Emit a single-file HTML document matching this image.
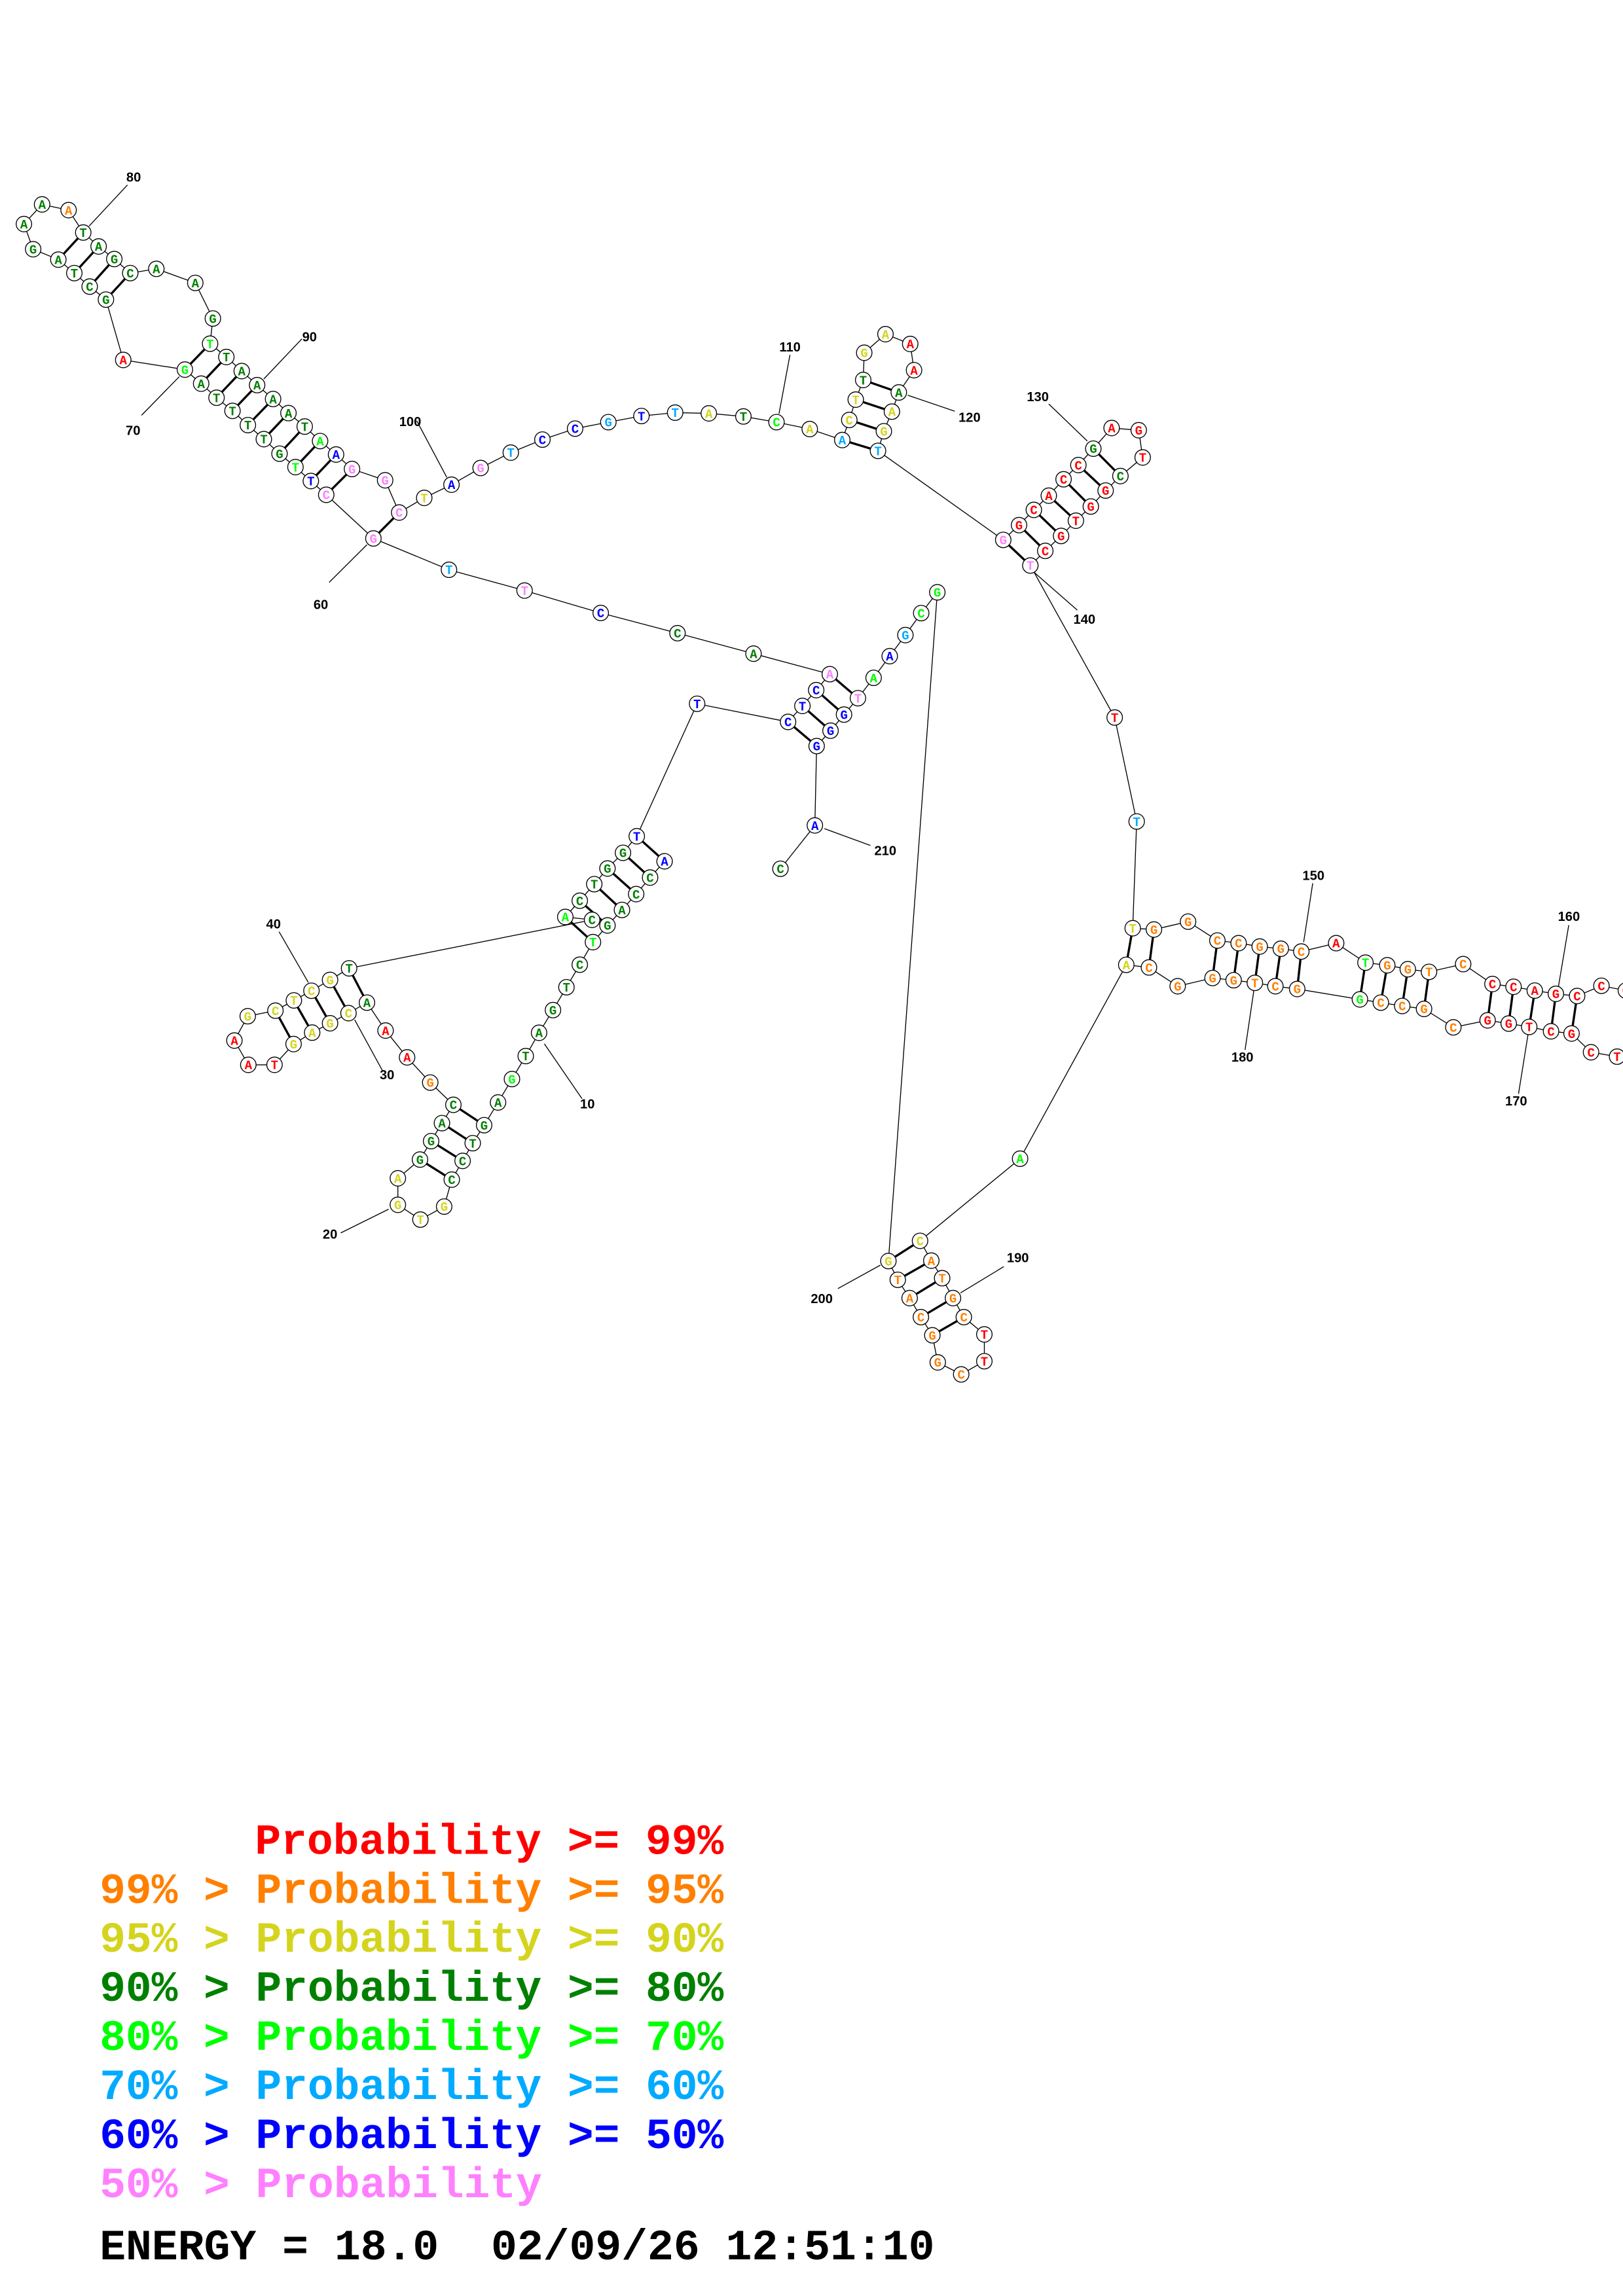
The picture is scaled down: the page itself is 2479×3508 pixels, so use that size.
<!DOCTYPE html>
<html><head><meta charset="utf-8"><style>
html,body{margin:0;padding:0;background:#fff}
svg{display:block}
.n circle{fill:#fff;stroke:#000;stroke-width:0.6}
.t text{font-family:"Liberation Mono",monospace;font-weight:bold;font-size:8.5px;text-anchor:middle}
.r{fill:#ff0000}.o{fill:#ff8000}.y{fill:#d4d41e}.g{fill:#008000}.l{fill:#00ff00}.c{fill:#00aaff}.b{fill:#0000ff}.p{fill:#ff80ff}
.lab{font-family:"Liberation Sans",sans-serif;font-weight:bold;font-size:9px;fill:#000;text-anchor:middle}
.leg{font-family:"Liberation Mono",monospace;font-weight:bold;font-size:29.5px}
</style></head><body>
<svg width="2479" height="3508" viewBox="0 0 1108 1568" xmlns="http://www.w3.org/2000/svg">
<rect width="1108" height="1568" fill="#fff"/>
<g fill="none" stroke="#000" stroke-width="0.6">
<polyline points="453.7,588.2 443.8,599.3 434.3,610.6 424.6,621.4 414.7,632 404.8,643.4 395.8,658.8 386.7,674.2 377.5,689.8 368,705.3 358.9,721.2 349.5,736.9 340,752.9 330.5,768.4 322.7,780.7 315.8,792.8 308.4,805.6 303.2,824 287,832.9 271.6,822.8 271.6,804.7 286.7,791.9 294.3,779.3 301.7,767 309.5,754.5 293.7,739.3 277.9,722.1 263.2,703.8 250.5,684.7 237.9,691.9 225.3,698.8 213.1,705.2 200.4,713 187.4,727.2 169.5,727.2 160,710.6 169.1,694 188,690.2 200.6,683.2 212.6,676.6 225.3,669.2 238.3,661.3 404.2,628.2 385.9,626.2 395.8,615.1 405.7,603.8 414.7,593.1 425.3,582.4 434.7,571.1 475.9,480.6 538,493 547.8,482.1 557.2,471.3 566.5,460.4 514.4,446.4 462.5,432.4 410.1,418.6 358.1,403.3 306.5,389.1 254.9,367.7 222.7,337.9 212.2,328.5 201.7,319 190.8,309.8 180.1,299.9 169.2,290.3 158.7,280.6 147.8,271.6 137.3,262 126.2,252.4 84.1,245.8 72.3,204.6 61.2,195.7 50.7,186.5 39.8,177.3 22.6,170.2 16.3,153 28.7,139.6 46.8,143.5 56.8,158.8 67.3,168.3 78,176.9 88.9,186.5 106.7,183.6 133.3,193.2 145.3,217.5 143.4,234.7 154.5,243.8 165,253.4 175.5,263 186.4,272.5 196.9,282.1 208,291.3 218.5,301.2 229.4,310.4 240.3,320.3 262.9,328 272.5,350 289.6,340 308.2,331 328.1,319.6 348.7,309.1 370.3,300.2 392.6,292.7 415.3,288.3 437.9,284.1 460.9,281.8 483.9,282.3 507.5,284.4 530.1,288.3 552.8,293 575,300.5 579.8,286.8 584.2,272.9 589.3,259.5 590,240.9 604.5,228.2 621.4,234.9 624,252.8 613.6,268 608.9,281.1 603.4,294.5 599.4,307.9 684.9,368.7 695.7,358.6 705.8,348.2 716,338.5 726.1,327.3 736.2,317.6 746.4,306.4 758.9,292.3 777.4,293.8 780.1,312.4 764.9,325.1 754.8,335 744.7,345.9 734.5,355.6 724.4,366 713.6,376.2 703.4,386.2 761,490 776,561 773.3,633.9 787.8,634.8 811.1,629.4 831.1,642.3 845.6,644.1 860,646.4 874.4,647.9 888.4,649.8 912.2,644.1 932.2,657.4 947.1,659.2 961.1,661.9 975.6,663.7 998.9,658.4 1018.9,672 1033.3,673.9 1047.8,676.5 1062.2,678.7 1076.7,680.2 1093.3,673.2 1110,676.5 1125,690 1120,715 1104,721.6 1086.2,718.6 1072.9,705.8 1058.9,704.3 1044,701.3 1030,699 1015.6,696.8 992.2,701.6 972.2,689 957.3,687 942.7,684.7 928.4,682.5 885.6,675.4 870.7,673.5 856.7,671.2 842.2,669.4 827.8,667.9 804,673.5 784.4,660.7 768.9,658.9 696.4,791.3 628.1,847.4 635.8,860.9 643.2,872.9 650.6,886.5 658,899.5 672,911.3 672,929.6 656.2,938.6 640.2,930.4 636.5,911.9 628.7,899.5 621,886.5 612.9,874 606.5,861.2 639.9,404.5 628.9,418.7 618.1,433.7 607.4,448.1 596.4,462.9 585.7,476.8 576.2,488 567,499 557.5,509.5 556.3,563.7 532.8,593.3"/>
<!-- label ticks -->
<line x1="397.3" y1="750.3" x2="371.6" y2="712.8"/>
<line x1="232.6" y1="842" x2="265.3" y2="825.8"/>
<line x1="261" y1="731" x2="242.1" y2="696.4"/>
<line x1="190.5" y1="636.3" x2="210.5" y2="671"/>
<line x1="224.7" y1="397.7" x2="250.5" y2="372"/>
<line x1="96.6" y1="283.6" x2="122.4" y2="257.2"/>
<line x1="87" y1="126.3" x2="60.8" y2="154.4"/>
<line x1="206.1" y1="231.4" x2="180.1" y2="258.8"/>
<line x1="284.5" y1="287.4" x2="305" y2="326"/>
<line x1="539.3" y1="242.4" x2="531.8" y2="282.6"/>
<line x1="651.8" y1="280.8" x2="619.7" y2="269.9"/>
<line x1="716" y1="275.9" x2="742.3" y2="301.2"/>
<line x1="735.5" y1="416.7" x2="705" y2="390"/>
<line x1="896.2" y1="603.2" x2="890" y2="643.4"/>
<line x1="1071" y1="631.8" x2="1064" y2="673.5"/>
<line x1="1043.3" y1="705.8" x2="1036.7" y2="747"/>
<line x1="856" y1="676.5" x2="850" y2="717"/>
<line x1="685.3" y1="865" x2="655.7" y2="883"/>
<line x1="572" y1="880" x2="601" y2="864"/>
<line x1="562.8" y1="565.9" x2="594.2" y2="577.4"/>
</g>
<g stroke="#000" stroke-width="1.5">
<line x1="453.7" y1="588.2" x2="434.7" y2="571.1"/><line x1="443.8" y1="599.3" x2="425.3" y2="582.4"/><line x1="434.3" y1="610.6" x2="414.7" y2="593.1"/><line x1="424.6" y1="621.4" x2="405.7" y2="603.8"/><line x1="414.7" y1="632" x2="395.8" y2="615.1"/><line x1="404.8" y1="643.4" x2="385.9" y2="626.2"/>
<line x1="330.5" y1="768.4" x2="309.5" y2="754.5"/><line x1="322.7" y1="780.7" x2="301.7" y2="767"/><line x1="315.8" y1="792.8" x2="294.3" y2="779.3"/><line x1="308.4" y1="805.6" x2="286.7" y2="791.9"/>
<line x1="250.5" y1="684.7" x2="238.3" y2="661.3"/><line x1="237.9" y1="691.9" x2="225.3" y2="669.2"/><line x1="225.3" y1="698.8" x2="212.6" y2="676.6"/><line x1="213.1" y1="705.2" x2="200.6" y2="683.2"/><line x1="200.4" y1="713" x2="188" y2="690.2"/>
<line x1="538" y1="493" x2="557.5" y2="509.5"/><line x1="547.8" y1="482.1" x2="567" y2="499"/><line x1="557.2" y1="471.3" x2="576.2" y2="488"/><line x1="566.5" y1="460.4" x2="585.7" y2="476.8"/>
<line x1="254.9" y1="367.7" x2="272.5" y2="350"/><line x1="222.7" y1="337.9" x2="240.3" y2="320.3"/><line x1="212.2" y1="328.5" x2="229.4" y2="310.4"/><line x1="201.7" y1="319" x2="218.5" y2="301.2"/><line x1="190.8" y1="309.8" x2="208" y2="291.3"/><line x1="180.1" y1="299.9" x2="196.9" y2="282.1"/><line x1="169.2" y1="290.3" x2="186.4" y2="272.5"/><line x1="158.7" y1="280.6" x2="175.5" y2="263"/><line x1="147.8" y1="271.6" x2="165" y2="253.4"/><line x1="137.3" y1="262" x2="154.5" y2="243.8"/><line x1="126.2" y1="252.4" x2="143.4" y2="234.7"/>
<line x1="72.3" y1="204.6" x2="88.9" y2="186.5"/><line x1="61.2" y1="195.7" x2="78" y2="176.9"/><line x1="50.7" y1="186.5" x2="67.3" y2="168.3"/><line x1="39.8" y1="177.3" x2="56.8" y2="158.8"/>
<line x1="575" y1="300.5" x2="599.4" y2="307.9"/><line x1="579.8" y1="286.8" x2="603.4" y2="294.5"/><line x1="584.2" y1="272.9" x2="608.9" y2="281.1"/><line x1="589.3" y1="259.5" x2="613.6" y2="268"/>
<line x1="684.9" y1="368.7" x2="703.4" y2="386.2"/><line x1="695.7" y1="358.6" x2="713.6" y2="376.2"/><line x1="705.8" y1="348.2" x2="724.4" y2="366"/><line x1="716" y1="338.5" x2="734.5" y2="355.6"/><line x1="726.1" y1="327.3" x2="744.7" y2="345.9"/><line x1="736.2" y1="317.6" x2="754.8" y2="335"/><line x1="746.4" y1="306.4" x2="764.9" y2="325.1"/>
<line x1="773.3" y1="633.9" x2="768.9" y2="658.9"/><line x1="787.8" y1="634.8" x2="784.4" y2="660.7"/><line x1="831.1" y1="642.3" x2="827.8" y2="667.9"/><line x1="845.6" y1="644.1" x2="842.2" y2="669.4"/><line x1="860" y1="646.4" x2="856.7" y2="671.2"/><line x1="874.4" y1="647.9" x2="870.7" y2="673.5"/><line x1="888.4" y1="649.8" x2="885.6" y2="675.4"/><line x1="932.2" y1="657.4" x2="928.4" y2="682.5"/><line x1="947.1" y1="659.2" x2="942.7" y2="684.7"/><line x1="961.1" y1="661.9" x2="957.3" y2="687"/><line x1="975.6" y1="663.7" x2="972.2" y2="689"/><line x1="1018.9" y1="672" x2="1015.6" y2="696.8"/><line x1="1033.3" y1="673.9" x2="1030" y2="699"/><line x1="1047.8" y1="676.5" x2="1044" y2="701.3"/><line x1="1062.2" y1="678.7" x2="1058.9" y2="704.3"/><line x1="1076.7" y1="680.2" x2="1072.9" y2="705.8"/>
<line x1="628.1" y1="847.4" x2="606.5" y2="861.2"/><line x1="635.8" y1="860.9" x2="612.9" y2="874"/><line x1="643.2" y1="872.9" x2="621" y2="886.5"/><line x1="650.6" y1="886.5" x2="628.7" y2="899.5"/><line x1="658" y1="899.5" x2="636.5" y2="911.9"/>
</g>
<g class="n">
<circle cx="453.7" cy="588.2" r="5.3"/><circle cx="443.8" cy="599.3" r="5.3"/><circle cx="434.3" cy="610.6" r="5.3"/><circle cx="424.6" cy="621.4" r="5.3"/><circle cx="414.7" cy="632" r="5.3"/><circle cx="404.8" cy="643.4" r="5.3"/><circle cx="395.8" cy="658.8" r="5.3"/><circle cx="386.7" cy="674.2" r="5.3"/><circle cx="377.5" cy="689.8" r="5.3"/><circle cx="368" cy="705.3" r="5.3"/>
<circle cx="358.9" cy="721.2" r="5.3"/><circle cx="349.5" cy="736.9" r="5.3"/><circle cx="340" cy="752.9" r="5.3"/><circle cx="330.5" cy="768.4" r="5.3"/><circle cx="322.7" cy="780.7" r="5.3"/><circle cx="315.8" cy="792.8" r="5.3"/><circle cx="308.4" cy="805.6" r="5.3"/><circle cx="303.2" cy="824" r="5.3"/><circle cx="287" cy="832.9" r="5.3"/><circle cx="271.6" cy="822.8" r="5.3"/>
<circle cx="271.6" cy="804.7" r="5.3"/><circle cx="286.7" cy="791.9" r="5.3"/><circle cx="294.3" cy="779.3" r="5.3"/><circle cx="301.7" cy="767" r="5.3"/><circle cx="309.5" cy="754.5" r="5.3"/><circle cx="293.7" cy="739.3" r="5.3"/><circle cx="277.9" cy="722.1" r="5.3"/><circle cx="263.2" cy="703.8" r="5.3"/><circle cx="250.5" cy="684.7" r="5.3"/><circle cx="237.9" cy="691.9" r="5.3"/>
<circle cx="225.3" cy="698.8" r="5.3"/><circle cx="213.1" cy="705.2" r="5.3"/><circle cx="200.4" cy="713" r="5.3"/><circle cx="187.4" cy="727.2" r="5.3"/><circle cx="169.5" cy="727.2" r="5.3"/><circle cx="160" cy="710.6" r="5.3"/><circle cx="169.1" cy="694" r="5.3"/><circle cx="188" cy="690.2" r="5.3"/><circle cx="200.6" cy="683.2" r="5.3"/><circle cx="212.6" cy="676.6" r="5.3"/>
<circle cx="225.3" cy="669.2" r="5.3"/><circle cx="238.3" cy="661.3" r="5.3"/><circle cx="404.2" cy="628.2" r="5.3"/><circle cx="385.9" cy="626.2" r="5.3"/><circle cx="395.8" cy="615.1" r="5.3"/><circle cx="405.7" cy="603.8" r="5.3"/><circle cx="414.7" cy="593.1" r="5.3"/><circle cx="425.3" cy="582.4" r="5.3"/><circle cx="434.7" cy="571.1" r="5.3"/><circle cx="475.9" cy="480.6" r="5.3"/>
<circle cx="538" cy="493" r="5.3"/><circle cx="547.8" cy="482.1" r="5.3"/><circle cx="557.2" cy="471.3" r="5.3"/><circle cx="566.5" cy="460.4" r="5.3"/><circle cx="514.4" cy="446.4" r="5.3"/><circle cx="462.5" cy="432.4" r="5.3"/><circle cx="410.1" cy="418.6" r="5.3"/><circle cx="358.1" cy="403.3" r="5.3"/><circle cx="306.5" cy="389.1" r="5.3"/><circle cx="254.9" cy="367.7" r="5.3"/>
<circle cx="222.7" cy="337.9" r="5.3"/><circle cx="212.2" cy="328.5" r="5.3"/><circle cx="201.7" cy="319" r="5.3"/><circle cx="190.8" cy="309.8" r="5.3"/><circle cx="180.1" cy="299.9" r="5.3"/><circle cx="169.2" cy="290.3" r="5.3"/><circle cx="158.7" cy="280.6" r="5.3"/><circle cx="147.8" cy="271.6" r="5.3"/><circle cx="137.3" cy="262" r="5.3"/><circle cx="126.2" cy="252.4" r="5.3"/>
<circle cx="84.1" cy="245.8" r="5.3"/><circle cx="72.3" cy="204.6" r="5.3"/><circle cx="61.2" cy="195.7" r="5.3"/><circle cx="50.7" cy="186.5" r="5.3"/><circle cx="39.8" cy="177.3" r="5.3"/><circle cx="22.6" cy="170.2" r="5.3"/><circle cx="16.3" cy="153" r="5.3"/><circle cx="28.7" cy="139.6" r="5.3"/><circle cx="46.8" cy="143.5" r="5.3"/><circle cx="56.8" cy="158.8" r="5.3"/>
<circle cx="67.3" cy="168.3" r="5.3"/><circle cx="78" cy="176.9" r="5.3"/><circle cx="88.9" cy="186.5" r="5.3"/><circle cx="106.7" cy="183.6" r="5.3"/><circle cx="133.3" cy="193.2" r="5.3"/><circle cx="145.3" cy="217.5" r="5.3"/><circle cx="143.4" cy="234.7" r="5.3"/><circle cx="154.5" cy="243.8" r="5.3"/><circle cx="165" cy="253.4" r="5.3"/><circle cx="175.5" cy="263" r="5.3"/>
<circle cx="186.4" cy="272.5" r="5.3"/><circle cx="196.9" cy="282.1" r="5.3"/><circle cx="208" cy="291.3" r="5.3"/><circle cx="218.5" cy="301.2" r="5.3"/><circle cx="229.4" cy="310.4" r="5.3"/><circle cx="240.3" cy="320.3" r="5.3"/><circle cx="262.9" cy="328" r="5.3"/><circle cx="272.5" cy="350" r="5.3"/><circle cx="289.6" cy="340" r="5.3"/><circle cx="308.2" cy="331" r="5.3"/>
<circle cx="328.1" cy="319.6" r="5.3"/><circle cx="348.7" cy="309.1" r="5.3"/><circle cx="370.3" cy="300.2" r="5.3"/><circle cx="392.6" cy="292.7" r="5.3"/><circle cx="415.3" cy="288.3" r="5.3"/><circle cx="437.9" cy="284.1" r="5.3"/><circle cx="460.9" cy="281.8" r="5.3"/><circle cx="483.9" cy="282.3" r="5.3"/><circle cx="507.5" cy="284.4" r="5.3"/><circle cx="530.1" cy="288.3" r="5.3"/>
<circle cx="552.8" cy="293" r="5.3"/><circle cx="575" cy="300.5" r="5.3"/><circle cx="579.8" cy="286.8" r="5.3"/><circle cx="584.2" cy="272.9" r="5.3"/><circle cx="589.3" cy="259.5" r="5.3"/><circle cx="590" cy="240.9" r="5.3"/><circle cx="604.5" cy="228.2" r="5.3"/><circle cx="621.4" cy="234.9" r="5.3"/><circle cx="624" cy="252.8" r="5.3"/><circle cx="613.6" cy="268" r="5.3"/>
<circle cx="608.9" cy="281.1" r="5.3"/><circle cx="603.4" cy="294.5" r="5.3"/><circle cx="599.4" cy="307.9" r="5.3"/><circle cx="684.9" cy="368.7" r="5.3"/><circle cx="695.7" cy="358.6" r="5.3"/><circle cx="705.8" cy="348.2" r="5.3"/><circle cx="716" cy="338.5" r="5.3"/><circle cx="726.1" cy="327.3" r="5.3"/><circle cx="736.2" cy="317.6" r="5.3"/><circle cx="746.4" cy="306.4" r="5.3"/>
<circle cx="758.9" cy="292.3" r="5.3"/><circle cx="777.4" cy="293.8" r="5.3"/><circle cx="780.1" cy="312.4" r="5.3"/><circle cx="764.9" cy="325.1" r="5.3"/><circle cx="754.8" cy="335" r="5.3"/><circle cx="744.7" cy="345.9" r="5.3"/><circle cx="734.5" cy="355.6" r="5.3"/><circle cx="724.4" cy="366" r="5.3"/><circle cx="713.6" cy="376.2" r="5.3"/><circle cx="703.4" cy="386.2" r="5.3"/>
<circle cx="761" cy="490" r="5.3"/><circle cx="776" cy="561" r="5.3"/><circle cx="773.3" cy="633.9" r="5.3"/><circle cx="787.8" cy="634.8" r="5.3"/><circle cx="811.1" cy="629.4" r="5.3"/><circle cx="831.1" cy="642.3" r="5.3"/><circle cx="845.6" cy="644.1" r="5.3"/><circle cx="860" cy="646.4" r="5.3"/><circle cx="874.4" cy="647.9" r="5.3"/><circle cx="888.4" cy="649.8" r="5.3"/>
<circle cx="912.2" cy="644.1" r="5.3"/><circle cx="932.2" cy="657.4" r="5.3"/><circle cx="947.1" cy="659.2" r="5.3"/><circle cx="961.1" cy="661.9" r="5.3"/><circle cx="975.6" cy="663.7" r="5.3"/><circle cx="998.9" cy="658.4" r="5.3"/><circle cx="1018.9" cy="672" r="5.3"/><circle cx="1033.3" cy="673.9" r="5.3"/><circle cx="1047.8" cy="676.5" r="5.3"/><circle cx="1062.2" cy="678.7" r="5.3"/>
<circle cx="1076.7" cy="680.2" r="5.3"/><circle cx="1093.3" cy="673.2" r="5.3"/><circle cx="1110" cy="676.5" r="5.3"/><circle cx="1104" cy="721.6" r="5.3"/><circle cx="1086.2" cy="718.6" r="5.3"/><circle cx="1072.9" cy="705.8" r="5.3"/><circle cx="1058.9" cy="704.3" r="5.3"/><circle cx="1044" cy="701.3" r="5.3"/><circle cx="1030" cy="699" r="5.3"/><circle cx="1015.6" cy="696.8" r="5.3"/>
<circle cx="992.2" cy="701.6" r="5.3"/><circle cx="972.2" cy="689" r="5.3"/><circle cx="957.3" cy="687" r="5.3"/><circle cx="942.7" cy="684.7" r="5.3"/><circle cx="928.4" cy="682.5" r="5.3"/><circle cx="885.6" cy="675.4" r="5.3"/><circle cx="870.7" cy="673.5" r="5.3"/><circle cx="856.7" cy="671.2" r="5.3"/><circle cx="842.2" cy="669.4" r="5.3"/><circle cx="827.8" cy="667.9" r="5.3"/>
<circle cx="804" cy="673.5" r="5.3"/><circle cx="784.4" cy="660.7" r="5.3"/><circle cx="768.9" cy="658.9" r="5.3"/><circle cx="696.4" cy="791.3" r="5.3"/><circle cx="628.1" cy="847.4" r="5.3"/><circle cx="635.8" cy="860.9" r="5.3"/><circle cx="643.2" cy="872.9" r="5.3"/><circle cx="650.6" cy="886.5" r="5.3"/><circle cx="658" cy="899.5" r="5.3"/><circle cx="672" cy="911.3" r="5.3"/>
<circle cx="672" cy="929.6" r="5.3"/><circle cx="656.2" cy="938.6" r="5.3"/><circle cx="640.2" cy="930.4" r="5.3"/><circle cx="636.5" cy="911.9" r="5.3"/><circle cx="628.7" cy="899.5" r="5.3"/><circle cx="621" cy="886.5" r="5.3"/><circle cx="612.9" cy="874" r="5.3"/><circle cx="606.5" cy="861.2" r="5.3"/><circle cx="639.9" cy="404.5" r="5.3"/><circle cx="628.9" cy="418.7" r="5.3"/>
<circle cx="618.1" cy="433.7" r="5.3"/><circle cx="607.4" cy="448.1" r="5.3"/><circle cx="596.4" cy="462.9" r="5.3"/><circle cx="585.7" cy="476.8" r="5.3"/><circle cx="576.2" cy="488" r="5.3"/><circle cx="567" cy="499" r="5.3"/><circle cx="557.5" cy="509.5" r="5.3"/><circle cx="556.3" cy="563.7" r="5.3"/><circle cx="532.8" cy="593.3" r="5.3"/>
</g>
<g class="t">
<text x="453.7" y="591.2" class="b">A</text><text x="443.8" y="602.3" class="g">C</text><text x="434.3" y="613.6" class="g">C</text><text x="424.6" y="624.4" class="g">A</text><text x="414.7" y="635" class="g">G</text><text x="404.8" y="646.4" class="l">T</text><text x="395.8" y="661.8" class="g">C</text><text x="386.7" y="677.2" class="g">T</text><text x="377.5" y="692.8" class="g">G</text><text x="368" y="708.3" class="g">A</text>
<text x="358.9" y="724.2" class="g">T</text><text x="349.5" y="739.9" class="l">G</text><text x="340" y="755.9" class="g">A</text><text x="330.5" y="771.4" class="g">G</text><text x="322.7" y="783.7" class="g">T</text><text x="315.8" y="795.8" class="g">C</text><text x="308.4" y="808.6" class="g">C</text><text x="303.2" y="827" class="y">G</text><text x="287" y="835.9" class="y">T</text><text x="271.6" y="825.8" class="y">G</text>
<text x="271.6" y="807.7" class="y">A</text><text x="286.7" y="794.9" class="g">G</text><text x="294.3" y="782.3" class="g">G</text><text x="301.7" y="770" class="g">A</text><text x="309.5" y="757.5" class="g">C</text><text x="293.7" y="742.3" class="o">G</text><text x="277.9" y="725.1" class="r">A</text><text x="263.2" y="706.8" class="r">A</text><text x="250.5" y="687.7" class="g">A</text><text x="237.9" y="694.9" class="y">C</text>
<text x="225.3" y="701.8" class="y">G</text><text x="213.1" y="708.2" class="y">A</text><text x="200.4" y="716" class="y">G</text><text x="187.4" y="730.2" class="r">T</text><text x="169.5" y="730.2" class="r">A</text><text x="160" y="713.6" class="r">A</text><text x="169.1" y="697" class="y">G</text><text x="188" y="693.2" class="y">C</text><text x="200.6" y="686.2" class="y">T</text><text x="212.6" y="679.6" class="y">C</text>
<text x="225.3" y="672.2" class="y">G</text><text x="238.3" y="664.3" class="g">T</text><text x="404.2" y="631.2" class="g">C</text><text x="385.9" y="629.2" class="l">A</text><text x="395.8" y="618.1" class="g">C</text><text x="405.7" y="606.8" class="g">T</text><text x="414.7" y="596.1" class="g">G</text><text x="425.3" y="585.4" class="g">G</text><text x="434.7" y="574.1" class="b">T</text><text x="475.9" y="483.6" class="b">T</text>
<text x="538" y="496" class="b">C</text><text x="547.8" y="485.1" class="b">T</text><text x="557.2" y="474.3" class="b">C</text><text x="566.5" y="463.4" class="p">A</text><text x="514.4" y="449.4" class="g">A</text><text x="462.5" y="435.4" class="g">C</text><text x="410.1" y="421.6" class="b">C</text><text x="358.1" y="406.3" class="p">T</text><text x="306.5" y="392.1" class="c">T</text><text x="254.9" y="370.7" class="p">G</text>
<text x="222.7" y="340.9" class="p">C</text><text x="212.2" y="331.5" class="b">T</text><text x="201.7" y="322" class="l">T</text><text x="190.8" y="312.8" class="g">G</text><text x="180.1" y="302.9" class="g">T</text><text x="169.2" y="293.3" class="g">T</text><text x="158.7" y="283.6" class="g">T</text><text x="147.8" y="274.6" class="g">T</text><text x="137.3" y="265" class="g">A</text><text x="126.2" y="255.4" class="l">G</text>
<text x="84.1" y="248.8" class="r">A</text><text x="72.3" y="207.6" class="g">G</text><text x="61.2" y="198.7" class="g">C</text><text x="50.7" y="189.5" class="g">T</text><text x="39.8" y="180.3" class="g">A</text><text x="22.6" y="173.2" class="g">G</text><text x="16.3" y="156" class="g">A</text><text x="28.7" y="142.6" class="g">A</text><text x="46.8" y="146.5" class="o">A</text><text x="56.8" y="161.8" class="g">T</text>
<text x="67.3" y="171.3" class="g">A</text><text x="78" y="179.9" class="g">G</text><text x="88.9" y="189.5" class="g">C</text><text x="106.7" y="186.6" class="g">A</text><text x="133.3" y="196.2" class="g">A</text><text x="145.3" y="220.5" class="g">G</text><text x="143.4" y="237.7" class="l">T</text><text x="154.5" y="246.8" class="g">T</text><text x="165" y="256.4" class="g">A</text><text x="175.5" y="266" class="g">A</text>
<text x="186.4" y="275.5" class="g">A</text><text x="196.9" y="285.1" class="g">A</text><text x="208" y="294.3" class="g">T</text><text x="218.5" y="304.2" class="l">A</text><text x="229.4" y="313.4" class="b">A</text><text x="240.3" y="323.3" class="p">G</text><text x="262.9" y="331" class="p">G</text><text x="272.5" y="353" class="p">C</text><text x="289.6" y="343" class="y">T</text><text x="308.2" y="334" class="b">A</text>
<text x="328.1" y="322.6" class="p">G</text><text x="348.7" y="312.1" class="c">T</text><text x="370.3" y="303.2" class="b">C</text><text x="392.6" y="295.7" class="b">C</text><text x="415.3" y="291.3" class="c">G</text><text x="437.9" y="287.1" class="b">T</text><text x="460.9" y="284.8" class="c">T</text><text x="483.9" y="285.3" class="y">A</text><text x="507.5" y="287.4" class="g">T</text><text x="530.1" y="291.3" class="l">C</text>
<text x="552.8" y="296" class="y">A</text><text x="575" y="303.5" class="c">A</text><text x="579.8" y="289.8" class="y">C</text><text x="584.2" y="275.9" class="y">T</text><text x="589.3" y="262.5" class="g">T</text><text x="590" y="243.9" class="y">G</text><text x="604.5" y="231.2" class="y">A</text><text x="621.4" y="237.9" class="r">A</text><text x="624" y="255.8" class="r">A</text><text x="613.6" y="271" class="g">A</text>
<text x="608.9" y="284.1" class="y">A</text><text x="603.4" y="297.5" class="y">G</text><text x="599.4" y="310.9" class="c">T</text><text x="684.9" y="371.7" class="p">G</text><text x="695.7" y="361.6" class="r">G</text><text x="705.8" y="351.2" class="r">C</text><text x="716" y="341.5" class="r">A</text><text x="726.1" y="330.3" class="r">C</text><text x="736.2" y="320.6" class="r">C</text><text x="746.4" y="309.4" class="g">G</text>
<text x="758.9" y="295.3" class="r">A</text><text x="777.4" y="296.8" class="r">G</text><text x="780.1" y="315.4" class="r">T</text><text x="764.9" y="328.1" class="g">C</text><text x="754.8" y="338" class="r">G</text><text x="744.7" y="348.9" class="r">G</text><text x="734.5" y="358.6" class="r">T</text><text x="724.4" y="369" class="r">G</text><text x="713.6" y="379.2" class="r">C</text><text x="703.4" y="389.2" class="p">T</text>
<text x="761" y="493" class="r">T</text><text x="776" y="564" class="c">T</text><text x="773.3" y="636.9" class="y">T</text><text x="787.8" y="637.8" class="o">G</text><text x="811.1" y="632.4" class="o">G</text><text x="831.1" y="645.3" class="o">C</text><text x="845.6" y="647.1" class="o">C</text><text x="860" y="649.4" class="o">G</text><text x="874.4" y="650.9" class="o">G</text><text x="888.4" y="652.8" class="o">C</text>
<text x="912.2" y="647.1" class="r">A</text><text x="932.2" y="660.4" class="l">T</text><text x="947.1" y="662.2" class="o">G</text><text x="961.1" y="664.9" class="o">G</text><text x="975.6" y="666.7" class="o">T</text><text x="998.9" y="661.4" class="o">C</text><text x="1018.9" y="675" class="r">C</text><text x="1033.3" y="676.9" class="r">C</text><text x="1047.8" y="679.5" class="r">A</text><text x="1062.2" y="681.7" class="r">G</text>
<text x="1076.7" y="683.2" class="r">C</text><text x="1093.3" y="676.2" class="r">C</text><text x="1110" y="679.5" class="r">C</text><text x="1104" y="724.6" class="r">T</text><text x="1086.2" y="721.6" class="r">C</text><text x="1072.9" y="708.8" class="r">G</text><text x="1058.9" y="707.3" class="r">C</text><text x="1044" y="704.3" class="r">T</text><text x="1030" y="702" class="r">G</text><text x="1015.6" y="699.8" class="r">G</text>
<text x="992.2" y="704.6" class="o">C</text><text x="972.2" y="692" class="o">G</text><text x="957.3" y="690" class="o">C</text><text x="942.7" y="687.7" class="o">C</text><text x="928.4" y="685.5" class="l">G</text><text x="885.6" y="678.4" class="o">G</text><text x="870.7" y="676.5" class="o">C</text><text x="856.7" y="674.2" class="o">T</text><text x="842.2" y="672.4" class="o">G</text><text x="827.8" y="670.9" class="o">G</text>
<text x="804" y="676.5" class="o">G</text><text x="784.4" y="663.7" class="o">C</text><text x="768.9" y="661.9" class="y">A</text><text x="696.4" y="794.3" class="l">A</text><text x="628.1" y="850.4" class="y">C</text><text x="635.8" y="863.9" class="o">A</text><text x="643.2" y="875.9" class="o">T</text><text x="650.6" y="889.5" class="o">G</text><text x="658" y="902.5" class="o">C</text><text x="672" y="914.3" class="r">T</text>
<text x="672" y="932.6" class="r">T</text><text x="656.2" y="941.6" class="o">C</text><text x="640.2" y="933.4" class="o">G</text><text x="636.5" y="914.9" class="o">G</text><text x="628.7" y="902.5" class="o">C</text><text x="621" y="889.5" class="o">A</text><text x="612.9" y="877" class="o">T</text><text x="606.5" y="864.2" class="y">G</text><text x="639.9" y="407.5" class="l">G</text><text x="628.9" y="421.7" class="l">C</text>
<text x="618.1" y="436.7" class="c">G</text><text x="607.4" y="451.1" class="b">A</text><text x="596.4" y="465.9" class="l">A</text><text x="585.7" y="479.8" class="p">T</text><text x="576.2" y="491" class="b">G</text><text x="567" y="502" class="b">G</text><text x="557.5" y="512.5" class="b">G</text><text x="556.3" y="566.7" class="b">A</text><text x="532.8" y="596.3" class="g">C</text>
</g>
<g class="lab">
<text x="401" y="757">10</text><text x="225.3" y="846">20</text><text x="264.2" y="737">30</text><text x="186.7" y="634">40</text><text x="219" y="416">60</text><text x="90.8" y="297">70</text><text x="91.2" y="124">80</text><text x="211.3" y="233">90</text><text x="280" y="291">100</text><text x="539.3" y="240">110</text><text x="661.9" y="288">120</text><text x="708.5" y="274">130</text><text x="740.3" y="426">140</text><text x="896.7" y="601">150</text><text x="1071.1" y="629">160</text><text x="1035.1" y="755">170</text><text x="848.2" y="725">180</text><text x="694.9" y="862">190</text><text x="561" y="890">200</text><text x="604.4" y="584">210</text>
</g>
<g class="leg">
<text x="174" y="1266" fill="#ff0000" textLength="320" lengthAdjust="spacingAndGlyphs">Probability &gt;= 99%</text>
<text x="68" y="1299.5" fill="#ff8000" textLength="426" lengthAdjust="spacingAndGlyphs">99% &gt; Probability &gt;= 95%</text>
<text x="68" y="1333" fill="#d4d41e" textLength="426" lengthAdjust="spacingAndGlyphs">95% &gt; Probability &gt;= 90%</text>
<text x="68" y="1366.5" fill="#008000" textLength="426" lengthAdjust="spacingAndGlyphs">90% &gt; Probability &gt;= 80%</text>
<text x="68" y="1400" fill="#00ff00" textLength="426" lengthAdjust="spacingAndGlyphs">80% &gt; Probability &gt;= 70%</text>
<text x="68" y="1433.5" fill="#00aaff" textLength="426" lengthAdjust="spacingAndGlyphs">70% &gt; Probability &gt;= 60%</text>
<text x="68" y="1467" fill="#0000ff" textLength="426" lengthAdjust="spacingAndGlyphs">60% &gt; Probability &gt;= 50%</text>
<text x="68" y="1500.5" fill="#ff80ff" textLength="302" lengthAdjust="spacingAndGlyphs">50% &gt; Probability</text>
<text x="68" y="1543" fill="#000" textLength="570" lengthAdjust="spacingAndGlyphs" xml:space="preserve">ENERGY = 18.0  02/09/26 12:51:10</text>
</g>
</svg>
</body></html>
